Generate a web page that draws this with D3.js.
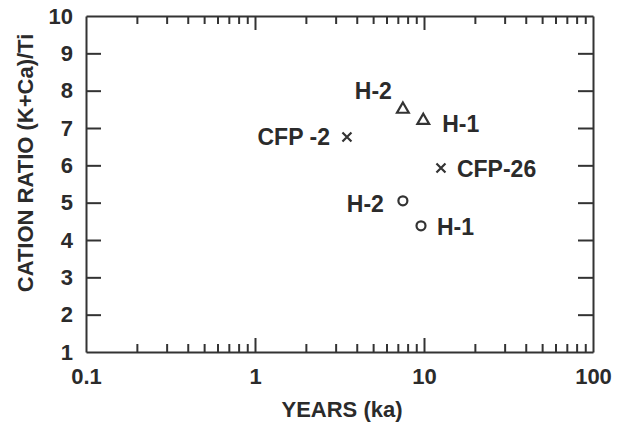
<!DOCTYPE html>
<html>
<head>
<meta charset="utf-8">
<script src="https://cdn.jsdelivr.net/npm/d3@7"></script>
<style>
  body { margin: 0; background: #fff; }
  text { font-family: "Liberation Sans", Arial, sans-serif; font-weight: bold; fill: #2b2b2b; }
  .axis path, .axis line { stroke: #333; stroke-width: 2; }
</style>
</head>
<body>
<div class="chart"></div>
<script>
// data
var triYears = [7.5, 9.9];
var triRatio = [7.5, 7.2];
var triNames = ["H-2", "H-1"];

var crossYears = [3.5, 12.6];
var crossRatio = [6.76, 5.93];
var crossNames = ["CFP -2", "CFP-26"];

var circYears = [7.5, 9.6];
var circRatio = [5.05, 4.38];
var circNames = ["H-2", "H-1"];

var xTickLabels = [0.1, 1, 10, 100];
var yTicks = [1, 2, 3, 4, 5, 6, 7, 8, 9, 10];

// label placement relative to each marker: [dx, dy, anchor]
var triLabelPos = [[-11, -10, "end"], [19, 11, "start"]];
var crossLabelPos = [[-17, 8, "end"], [16, 9, "start"]];
var circLabelPos = [[-19, 11, "end"], [16, 9, "start"]];

var svgWidth = 630;
var svgHeight = 423;

var margin = { top: 16, right: 37, bottom: 71, left: 86 };
var width = svgWidth - margin.left - margin.right;
var height = svgHeight - margin.top - margin.bottom;

var svg = d3.select(".chart")
  .append("svg")
  .attr("width", svgWidth)
  .attr("height", svgHeight);

var chartGroup = svg.append("g")
  .attr("transform", `translate(${margin.left}, ${margin.top})`);

var xScale = d3.scaleLog()
  .domain([0.1, 100])
  .range([0, width]);

var yScale = d3.scaleLinear()
  .domain([1, 10])
  .range([height, 0]);

var xTicks = xScale.ticks();
function isMajor(d) {
  return xTickLabels.some(v => Math.abs(v - d) / v < 1e-6);
}

// bottom axis
var bottomAxis = d3.axisBottom(xScale)
  .tickValues(xTicks)
  .tickSizeInner(-8)
  .tickSizeOuter(0)
  .tickPadding(16)
  .tickFormat(d => isMajor(d) ? d3.format("~g")(d) : "");

var xAxis = chartGroup.append("g")
  .attr("class", "axis")
  .attr("transform", `translate(0, ${height})`)
  .call(bottomAxis);

// top axis
var topAxis = d3.axisTop(xScale)
  .tickValues(xTicks)
  .tickSizeInner(-8)
  .tickSizeOuter(0)
  .tickFormat("");

var xAxisTop = chartGroup.append("g")
  .attr("class", "axis")
  .call(topAxis);

// longer ticks at 1 and 10
xAxis.selectAll(".tick line").filter(d => isMajor(d)).attr("y2", -14);
xAxisTop.selectAll(".tick line").filter(d => isMajor(d)).attr("y2", 14);

// left and right axes
var leftAxis = d3.axisLeft(yScale)
  .tickValues(yTicks)
  .tickSizeInner(-15)
  .tickSizeOuter(0)
  .tickPadding(13)
  .tickFormat(d3.format("d"));

var yAxis = chartGroup.append("g")
  .attr("class", "axis")
  .call(leftAxis);

var rightAxis = d3.axisRight(yScale)
  .tickValues(yTicks)
  .tickSizeInner(-15)
  .tickSizeOuter(0)
  .tickFormat("");

var yAxisRight = chartGroup.append("g")
  .attr("class", "axis")
  .attr("transform", `translate(${width}, 0)`)
  .call(rightAxis);

// no tick marks at the corners
[xAxis, xAxisTop].forEach(function(ax) {
  ax.selectAll(".tick").filter(d => d === 0.1 || d === 100).select("line").remove();
});
[yAxis, yAxisRight].forEach(function(ax) {
  ax.selectAll(".tick").filter(d => d === 1 || d === 10).select("line").remove();
});

chartGroup.selectAll(".axis text")
  .attr("font-size", 22)
  .attr("font-family", null);

// markers
var markerColor = "#333";

chartGroup.selectAll(".tri")
  .data(triYears)
  .enter()
  .append("path")
  .attr("class", "tri")
  .attr("d", d3.symbol().type(d3.symbolTriangle).size(60))
  .attr("transform", (d, i) => `translate(${xScale(d)}, ${yScale(triRatio[i])})`)
  .attr("fill", "none")
  .attr("stroke", markerColor)
  .attr("stroke-width", 2.2);

chartGroup.selectAll(".cross")
  .data(crossYears)
  .enter()
  .append("path")
  .attr("class", "cross")
  .attr("d", "M-4.5,-4.5L4.5,4.5M-4.5,4.5L4.5,-4.5")
  .attr("transform", (d, i) => `translate(${xScale(d)}, ${yScale(crossRatio[i])})`)
  .attr("fill", "none")
  .attr("stroke", markerColor)
  .attr("stroke-width", 2.2);

chartGroup.selectAll(".circ")
  .data(circYears)
  .enter()
  .append("circle")
  .attr("class", "circ")
  .attr("cx", d => xScale(d))
  .attr("cy", (d, i) => yScale(circRatio[i]))
  .attr("r", 4.5)
  .attr("fill", "none")
  .attr("stroke", markerColor)
  .attr("stroke-width", 2.2);

// point labels
function addLabels(years, ratios, names, pos) {
  chartGroup.append("g")
    .selectAll("text")
    .data(years)
    .enter()
    .append("text")
    .attr("x", (d, i) => xScale(d) + pos[i][0])
    .attr("y", (d, i) => yScale(ratios[i]) + pos[i][1])
    .attr("text-anchor", (d, i) => pos[i][2])
    .attr("font-size", 23)
    .text((d, i) => names[i]);
}
addLabels(triYears, triRatio, triNames, triLabelPos);
addLabels(crossYears, crossRatio, crossNames, crossLabelPos);
addLabels(circYears, circRatio, circNames, circLabelPos);

// axis titles
svg.append("text")
  .attr("x", 342)
  .attr("y", 417)
  .attr("text-anchor", "middle")
  .attr("font-size", 22)
  .text("YEARS (ka)");

svg.append("text")
  .attr("transform", "translate(33, 163) rotate(-90)")
  .attr("text-anchor", "middle")
  .attr("font-size", 22)
  .text("CATION RATIO (K+Ca)/Ti");
</script>
</body>
</html>
